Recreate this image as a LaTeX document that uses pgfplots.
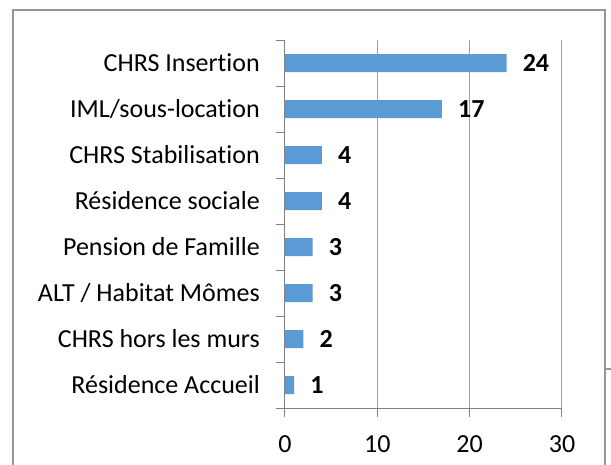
\documentclass[border=0pt]{standalone}
\usepackage{fontspec}
\setmainfont{Carlito}[Ligatures=NoCommon]
\usepackage{pgfplots}
\pgfplotsset{compat=1.18}

\definecolor{barblue}{RGB}{91,155,213}
\definecolor{gridgray}{RGB}{160,160,160}
\definecolor{axisgray}{RGB}{128,128,128}
\definecolor{framegray}{RGB}{150,150,150}

\newcommand{\lbl}{\fontsize{26}{30}\selectfont}

\begin{document}
\begin{tikzpicture}
\useasboundingbox (0,0) rectangle (611pt,464pt);
\begin{scope}
    \clip (0,0) rectangle (611pt,464pt);
    % outer chart frame (bottom edge lies outside the picture)
    \draw[framegray, line width=1.2pt] (13pt,-20pt) rectangle (605pt,454pt);
    \draw[framegray, line width=1.2pt] (605pt,95pt) -- (620pt,95pt);
\end{scope}

\begin{axis}[
    at={(285pt,56pt)}, anchor=south west,
    scale only axis,
    width=277pt, height=368pt,
    xbar, bar width=18pt,
    xmin=0, xmax=30,
    ymin=-0.5, ymax=7.5,
    xtick={0,10,20,30},
    ytick={-0.5,0.5,...,7.5},
    y tick label as interval,
    yticklabels={Résidence Accueil, CHRS hors les murs, ALT / Habitat Mômes,
        Pension de Famille, Résidence sociale, CHRS Stabilisation\hspace{6pt},
        IML/sous-location, CHRS Insertion},
    axis lines=left,
    axis line style={-, axisgray, line width=1pt},
    tick align=outside,
    major tick length=8.5pt,
    tick style={axisgray, line width=1pt},
    xmajorgrids=true,
    ymajorgrids=false,
    grid style={gridgray, line width=1pt},
    /pgf/number format/assume math mode=true,
    every tick label/.append style={font=\lbl, inner sep=0pt},
    xticklabel style={anchor=north, yshift=-19pt},
    yticklabel style={anchor=east, xshift=-16.5pt},
    nodes near coords,
    every node near coord/.append style={anchor=west, inner sep=0pt,
        xshift=16pt, font=\lbl\bfseries, black},
    clip=false,
]
    \addplot[fill=barblue, draw=none] coordinates {
        (1,0) (2,1) (3,2) (3,3) (4,4) (4,5) (17,6) (24,7)
    };
\end{axis}
\end{tikzpicture}
\end{document}
